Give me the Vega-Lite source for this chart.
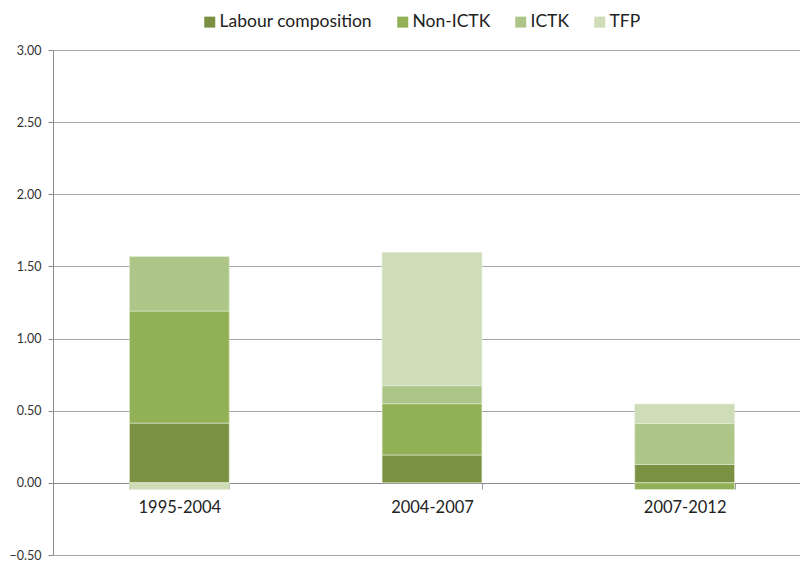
{
  "$schema": "https://vega.github.io/schema/vega-lite/v6.json",
  "width": 747,
  "height": 505,
  "autosize": {"type": "none"},
  "padding": {"left": 53, "top": 50, "right": 0, "bottom": 6},
  "background": "white",
  "config": {
    "font": "Lato",
    "view": {"stroke": null}
  },
  "data": {
    "values": [
      {"period": "1995-2004", "component": "Labour composition", "order": 1, "value": 0.414},
      {"period": "1995-2004", "component": "Non-ICTK", "order": 2, "value": 0.777},
      {"period": "1995-2004", "component": "ICTK", "order": 3, "value": 0.378},
      {"period": "1995-2004", "component": "TFP", "order": 4, "value": -0.046},
      {"period": "2004-2007", "component": "Labour composition", "order": 1, "value": 0.193},
      {"period": "2004-2007", "component": "Non-ICTK", "order": 2, "value": 0.356},
      {"period": "2004-2007", "component": "ICTK", "order": 3, "value": 0.125},
      {"period": "2004-2007", "component": "TFP", "order": 4, "value": 0.923},
      {"period": "2007-2012", "component": "Labour composition", "order": 1, "value": 0.128},
      {"period": "2007-2012", "component": "Non-ICTK", "order": 2, "value": -0.046},
      {"period": "2007-2012", "component": "ICTK", "order": 3, "value": 0.283},
      {"period": "2007-2012", "component": "TFP", "order": 4, "value": 0.136}
    ]
  },
  "mark": {"type": "bar", "stroke": "#e4ecd6", "strokeWidth": 0.6},
  "encoding": {
    "x": {
      "field": "period",
      "type": "nominal",
      "sort": ["1995-2004", "2004-2007", "2007-2012"],
      "scale": {"range": [0, 758], "paddingInner": 0.605, "paddingOuter": 0.3025},
      "axis": {
        "title": null,
        "offset": -72,
        "labelAngle": 0,
        "labelFontSize": 16.5,
        "labelColor": "#222222",
        "labelPadding": 10,
        "tickBand": "extent",
        "tickSize": 6,
        "tickColor": "#999999",
        "domainColor": "#8a8a8a",
        "grid": false
      }
    },
    "y": {
      "field": "value",
      "type": "quantitative",
      "stack": "zero",
      "scale": {"domain": [-0.5, 3], "nice": false, "zero": false},
      "axis": {
        "title": null,
        "values": [-0.5, 0, 0.5, 1, 1.5, 2, 2.5, 3],
        "format": ".2f",
        "labelFontSize": 12.5,
        "labelColor": "#333333",
        "labelPadding": 7,
        "tickSize": 5,
        "tickColor": "#8a8a8a",
        "domainColor": "#8a8a8a",
        "grid": true,
        "gridColor": "#a6a6a6",
        "gridWidth": 1
      }
    },
    "color": {
      "field": "component",
      "type": "nominal",
      "sort": ["Labour composition", "Non-ICTK", "ICTK", "TFP"],
      "scale": {
        "domain": ["Labour composition", "Non-ICTK", "ICTK", "TFP"],
        "range": ["#7a9143", "#92b055", "#adc688", "#cedcb8"]
      },
      "legend": {
        "title": null,
        "orient": "none",
        "direction": "horizontal",
        "legendX": 148,
        "legendY": -37,
        "symbolType": "square",
        "symbolSize": 121,
        "symbolStrokeWidth": 0,
        "labelFontSize": 17.5,
        "labelColor": "#222222",
        "labelOffset": 1,
        "columnPadding": 21
      }
    },
    "order": {"field": "order", "type": "quantitative"}
  }
}
